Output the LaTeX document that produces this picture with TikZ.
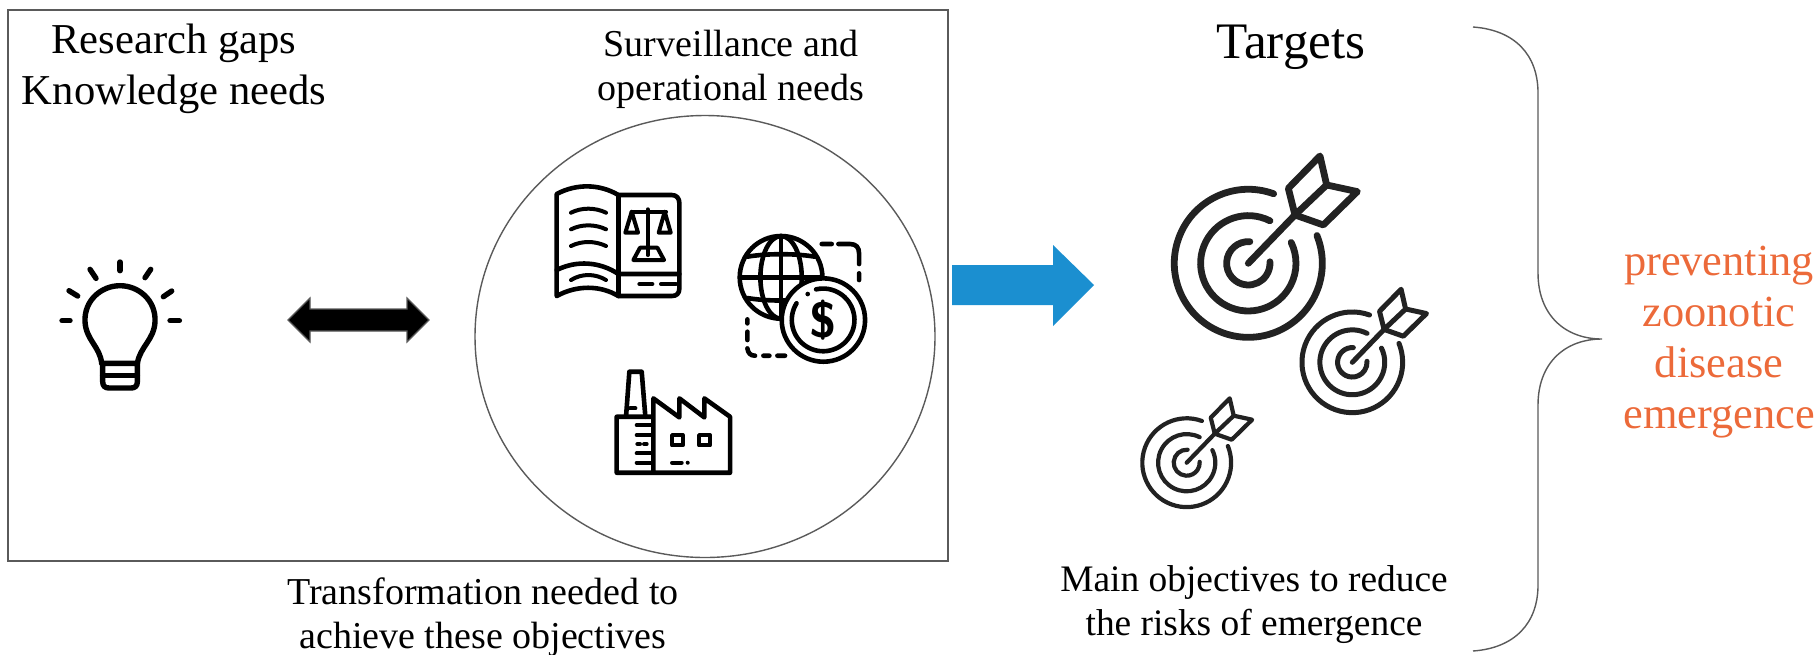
\documentclass[tikz,border=0pt]{standalone}
\usepackage{fontspec}
\setmainfont{Liberation Serif}
\definecolor{boxline}{HTML}{5A5A5A}
\definecolor{bluearrow}{HTML}{1B8FD0}
\definecolor{orangetext}{HTML}{EC6A3A}
\definecolor{targetink}{HTML}{222222}
\tikzset{
  framebox/.style={draw=boxline,line width=0.7pt},
  lbl/.style={align=center,text=black,inner sep=0pt},
  big/.style={font=\fontsize{21.3}{25.5}\selectfont},
  mid/.style={font=\fontsize{19}{22}\selectfont},
  ink/.style={draw=black,line width=2.3pt,line cap=round,line join=round},
  fine/.style={ink,line width=2pt},
  bulbink/.style={ink,line width=2.7pt},
}
\newcommand{\mytarget}[4]{%
\begin{scope}[shift={(#1,#2)},x=#3pt,y=#3pt,draw=targetink,line width=#4pt,line cap=round,line join=round]
  \draw (70:222) arc[start angle=70,end angle=382,radius=222];
  \draw (63:143) arc[start angle=63,end angle=386,radius=143];
  \draw (86:65) arc[start angle=86,end angle=364,radius=65];
  \draw (0,0) -- (140,145);
  \draw (215,322) -- (120,225) -- (140,145) -- (235,235) -- cycle;
  \draw (235,235) -- (327,215) -- (225,115) -- (140,145);
\end{scope}}
\begin{document}
\begin{tikzpicture}[x=0.5pt,y=-0.5pt]
\useasboundingbox (0,0) rectangle (1820,654);
% main frame and circle
\draw[framebox] (8,10) rectangle (948,561);
\draw[framebox] (705,336.5) ellipse[x radius=230,y radius=221];
% labels
\node[lbl,big] (gaps) at (174,69) {Research gaps\\Knowledge needs};
\node[lbl,mid] (surv) at (731,69) {Surveillance and\\operational needs};
\node[lbl,font=\fontsize{25.6}{30}\selectfont] (targets) at (1291,47) {Targets};
\node[lbl,mid] (transf) at (483,617) {Transformation needed to\\achieve these objectives};
\node[lbl,font=\fontsize{18.7}{22}\selectfont] (mainobj) at (1254,605) {Main objectives to reduce\\the risks of emergence};
\node[lbl,font=\fontsize{22.2}{25.5}\selectfont,text=orangetext] (prevent) at (1719,342) {preventing\\zoonotic\\disease\\emergence};
% bulb
\begin{scope}[shift={(0,200)},x=0.1667pt,y=-0.1667pt]
  \draw[bulbink] (305,490) .. controls (300,440) and (258,420) .. (255,365) .. controls (252,300) and (305,257) .. (360,257) .. controls (415,257) and (468,300) .. (465,365) .. controls (462,420) and (420,440) .. (412,490);
  \draw[bulbink] (305,490) -- (412,490) -- (412,545) .. controls (412,558) and (405,564) .. (392,564) -- (328,564) .. controls (315,564) and (308,558) .. (308,545) -- (308,490);
  \draw[bulbink] (308,527) -- (412,527);
  \foreach \a/\b/\c/\d in {186/362/210/362,510/362/538/362,207/272/233/288,490/290/515/273,270/208/288/235,435/233/452/208,360/186/360/212}
    \draw[bulbink] (\a,\b) -- (\c,\d);
\end{scope}
% double arrow
\draw[fill=black,draw=boxline,line width=0.6pt] (288,320) -- (310,298) -- (310,309) -- (407,309) -- (407,298) -- (429,320) -- (407,342) -- (407,331) -- (310,331) -- (310,342) -- cycle;
% blue arrow
\fill[bluearrow] (952,265) -- (1053,265) -- (1053,245) -- (1094,285) -- (1053,326) -- (1053,305) -- (952,305) -- cycle;
% book, globe, factory
\begin{scope}[shift={(520,160)},x=0.1667pt,y=-0.1667pt]
  \draw[ink] (110,102) .. controls (170,70) and (240,72) .. (295,105) -- (455,105) .. controls (470,105) and (478,115) .. (478,130) -- (478,385) .. controls (478,400) and (470,408) .. (455,408) -- (295,408) .. controls (240,375) and (170,375) .. (110,408) -- cycle;
  \draw[ink] (295,105) -- (295,408);
  \draw[ink] (110,330) .. controls (170,300) and (240,305) .. (295,342) -- (478,342);
  \foreach \y in {158,208,258} \draw[fine] (153,\y) .. controls (185,\y-16) and (225,\y-16) .. (258,\y);
  \draw[fine] (153,360) .. controls (185,340) and (225,340) .. (258,360);
  \draw[fine] (358,372) -- (397,372) (423,372) -- (468,372);
  \draw[fine] (383,148) -- (383,285) (335,155) -- (438,155);
  \draw[fine] (335,155) -- (316,218) -- (354,218) -- cycle (434,155) -- (416,218) -- (452,218) -- cycle;
  \draw[fine] (340,300) -- (432,300) -- (412,263) -- (360,263) -- cycle;
  % globe
  \draw[ink] (783,352) circle[radius=124];
  \draw[ink] (783,352) ellipse[x radius=62,y radius=124];
  \draw[ink] (783,228) -- (783,476) (660,352) -- (906,352);
  \draw[ink] (682,290) .. controls (740,280) and (826,280) .. (884,290);
  \draw[ink] (682,414) .. controls (740,424) and (826,424) .. (884,414);
  \draw[ink] (905,252) -- (935,252) (955,252) -- (990,252) .. controls (1008,252) and (1017,262) .. (1017,280) -- (1017,312) (1017,340) -- (1017,360);
  \draw[ink] (682,478) -- (682,490) (682,515) -- (682,540) (682,565) .. controls (684,578) and (690,587) .. (705,587) (730,587) -- (748,587) (772,587) -- (795,587);
  % coin
  \draw[ink,fill=white] (910,480) circle[radius=125];
  \draw[ink] (888,388) arc[start angle=-103,end angle=212,radius=94];
  \fill[black] (863,402) circle[radius=7];
  \node[inner sep=0pt,font=\fontsize{25}{25}\selectfont\bfseries\sffamily] (dollar) at (910,480) {\$};
  % factory
  \draw[ink] (318,770) -- (328,635) -- (365,635) -- (376,770);
  \draw[fine] (330,745) -- (346,745);
  \draw[ink] (290,770) -- (400,770) (290,770) -- (290,938) -- (630,938) -- (630,770) -- (553,715) -- (553,772) -- (478,715) -- (478,772) -- (400,715) -- (400,938);
  \foreach \y in {795,825,880,908} \draw[fine] (350,\y) -- (398,\y);
  \draw[fine] (352,852) -- (360,852) (372,852) -- (380,852);
  \draw[fine] (456,825) rectangle (488,856) (537,825) rectangle (570,856);
  \draw[fine] (456,908) -- (485,908);
  \fill[black] (503,908) circle[radius=6];
\end{scope}
% targets
\mytarget{1248.3}{263.3}{0.1667}{3.4}
\mytarget{1352.3}{362.3}{0.1134}{2.5}
\mytarget{1186.7}{462.7}{0.1}{2.1}
% brace
\draw[framebox] (1473,27) .. controls (1515,30) and (1538,55) .. (1538,93) -- (1538,273) .. controls (1538,315) and (1565,339) .. (1602,339) .. controls (1565,339) and (1538,363) .. (1538,405) -- (1538,585) .. controls (1538,623) and (1515,648) .. (1473,651);
\end{tikzpicture}
\end{document}
